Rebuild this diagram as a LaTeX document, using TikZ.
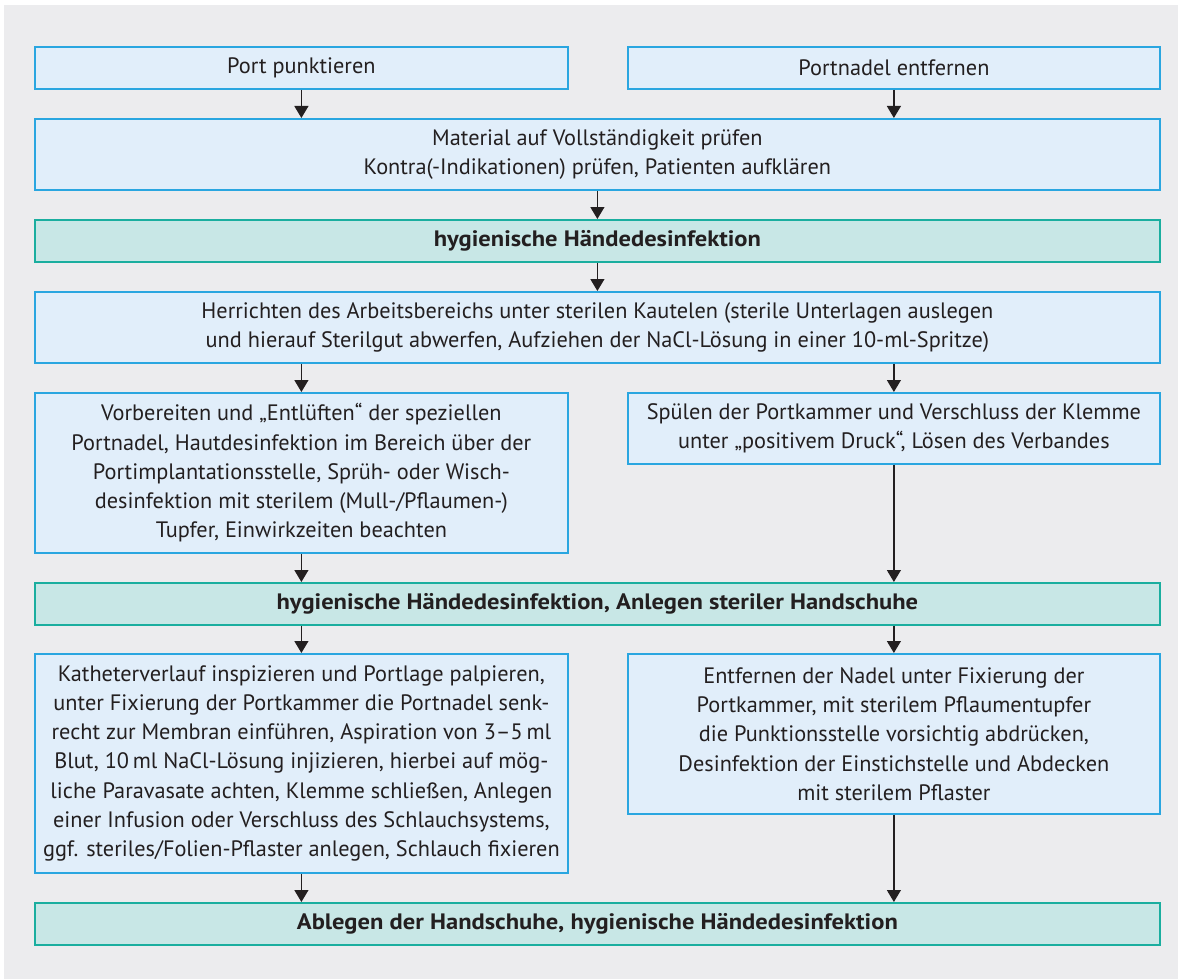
\documentclass[tikz,border=0pt]{standalone}
\usepackage{fontspec}
\setmainfont{PT Sans}
\newfontfamily\widebold{PT Sans}[FakeStretch=1.1]
\usetikzlibrary{arrows.meta}
\definecolor{bgGray}{HTML}{ECECEE}
\definecolor{boxBlue}{HTML}{E1EEFA}
\definecolor{lineBlue}{HTML}{2AA6E0}
\definecolor{boxGreen}{HTML}{C8E7E6}
\definecolor{lineGreen}{HTML}{1AAE9F}
\definecolor{ink}{HTML}{231F20}
\tikzset{
  base/.style={rectangle, anchor=north west, inner sep=0pt, align=center, text=ink,
    line width=0.9pt, font=\fontsize{11.15pt}{14.65pt}\selectfont},
  bluebox/.style={base, draw=lineBlue, fill=boxBlue},
  greenbox/.style={base, draw=lineGreen, fill=boxGreen, font=\fontsize{11.15pt}{14.65pt}\widebold\bfseries},
  halfL/.style={minimum width=266.5pt},
  halfR/.style={minimum width=266pt},
  full/.style={minimum width=562.5pt},
  h1/.style={minimum height=21pt},
  h2/.style={minimum height=35.5pt},
  h5/.style={minimum height=80pt},
  h7/.style={minimum height=109.5pt},
  flow/.style={draw=ink, line width=0.6pt, -{Triangle[width=7pt,length=6pt]}}
}
\begin{document}
\begin{tikzpicture}[x=0.5pt,y=-0.5pt]
\useasboundingbox (0,0) rectangle (1178,979);
\fill[bgGray] (4,5) rectangle (1178,979);

\node[bluebox, halfL, h1] (port) at (34,46) {Port punktieren};
\node[bluebox, halfR, h1] (nadel) at (627,46) {Portnadel entfernen};
\node[bluebox, full, h2] (mat) at (34,118) {Material auf Vollständigkeit prüfen\\Kontra(-Indikationen) prüfen, Patienten aufklären};
\node[greenbox, full, h1] (g1) at (34,219) {hygienische Händedesinfektion};
\node[bluebox, full, h2] (herr) at (34,291) {Herrichten des Arbeitsbereichs unter sterilen Kautelen (sterile Unterlagen auslegen\\und hierauf Sterilgut abwerfen, Aufziehen der NaCl-Lösung in einer 10-ml-Spritze)};
\node[bluebox, halfL, h5] (vorb) at (34,392) {Vorbereiten und „Entlüften“ der speziellen\\Portnadel, Hautdesinfektion im Bereich über der\\Portimplantationsstelle, Sprüh- oder Wisch-\\desinfektion mit sterilem (Mull-/Pflaumen-)\\Tupfer, Einwirkzeiten beachten};
\node[bluebox, halfR, h2] (spuel) at (627,392) {Spülen der Portkammer und Verschluss der Klemme\\unter „positivem Druck“, Lösen des Verbandes};
\node[greenbox, full, h1] (g2) at (34,582) {hygienische Händedesinfektion, Anlegen steriler Handschuhe};
\node[bluebox, halfL, h7] (kath) at (34,653) {Katheterverlauf inspizieren und Portlage palpieren,\\unter Fixierung der Portkammer die Portnadel senk-\\recht zur Membran einführen, Aspiration von 3–5\,ml\\Blut, 10\,ml NaCl-Lösung injizieren, hierbei auf mög-\\liche Paravasate achten, Klemme schließen, Anlegen\\einer Infusion oder Verschluss des Schlauchsystems,\\ggf. steriles/Folien-Pflaster anlegen, Schlauch fixieren};
\node[bluebox, halfR, h5] (entf) at (627,653) {Entfernen der Nadel unter Fixierung der\\Portkammer, mit sterilem Pflaumentupfer\\die Punktionsstelle vorsichtig abdrücken,\\Desinfektion der Einstichstelle und Abdecken\\mit sterilem Pflaster};
\node[greenbox, full, h1] (g3) at (34,902) {Ablegen der Handschuhe, hygienische Händedesinfektion};

\draw[flow] (port.south) -- (port.south |- mat.north);
\draw[flow] (nadel.south) -- (nadel.south |- mat.north);
\draw[flow] (mat.south) -- (g1.north);
\draw[flow] (g1.south) -- (herr.north);
\draw[flow] (vorb.north |- herr.south) -- (vorb.north);
\draw[flow] (spuel.north |- herr.south) -- (spuel.north);
\draw[flow] (vorb.south) -- (vorb.south |- g2.north);
\draw[flow] (spuel.south) -- (spuel.south |- g2.north);
\draw[flow] (kath.north |- g2.south) -- (kath.north);
\draw[flow] (entf.north |- g2.south) -- (entf.north);
\draw[flow] (kath.south) -- (kath.south |- g3.north);
\draw[flow] (entf.south) -- (entf.south |- g3.north);
\end{tikzpicture}
\end{document}
